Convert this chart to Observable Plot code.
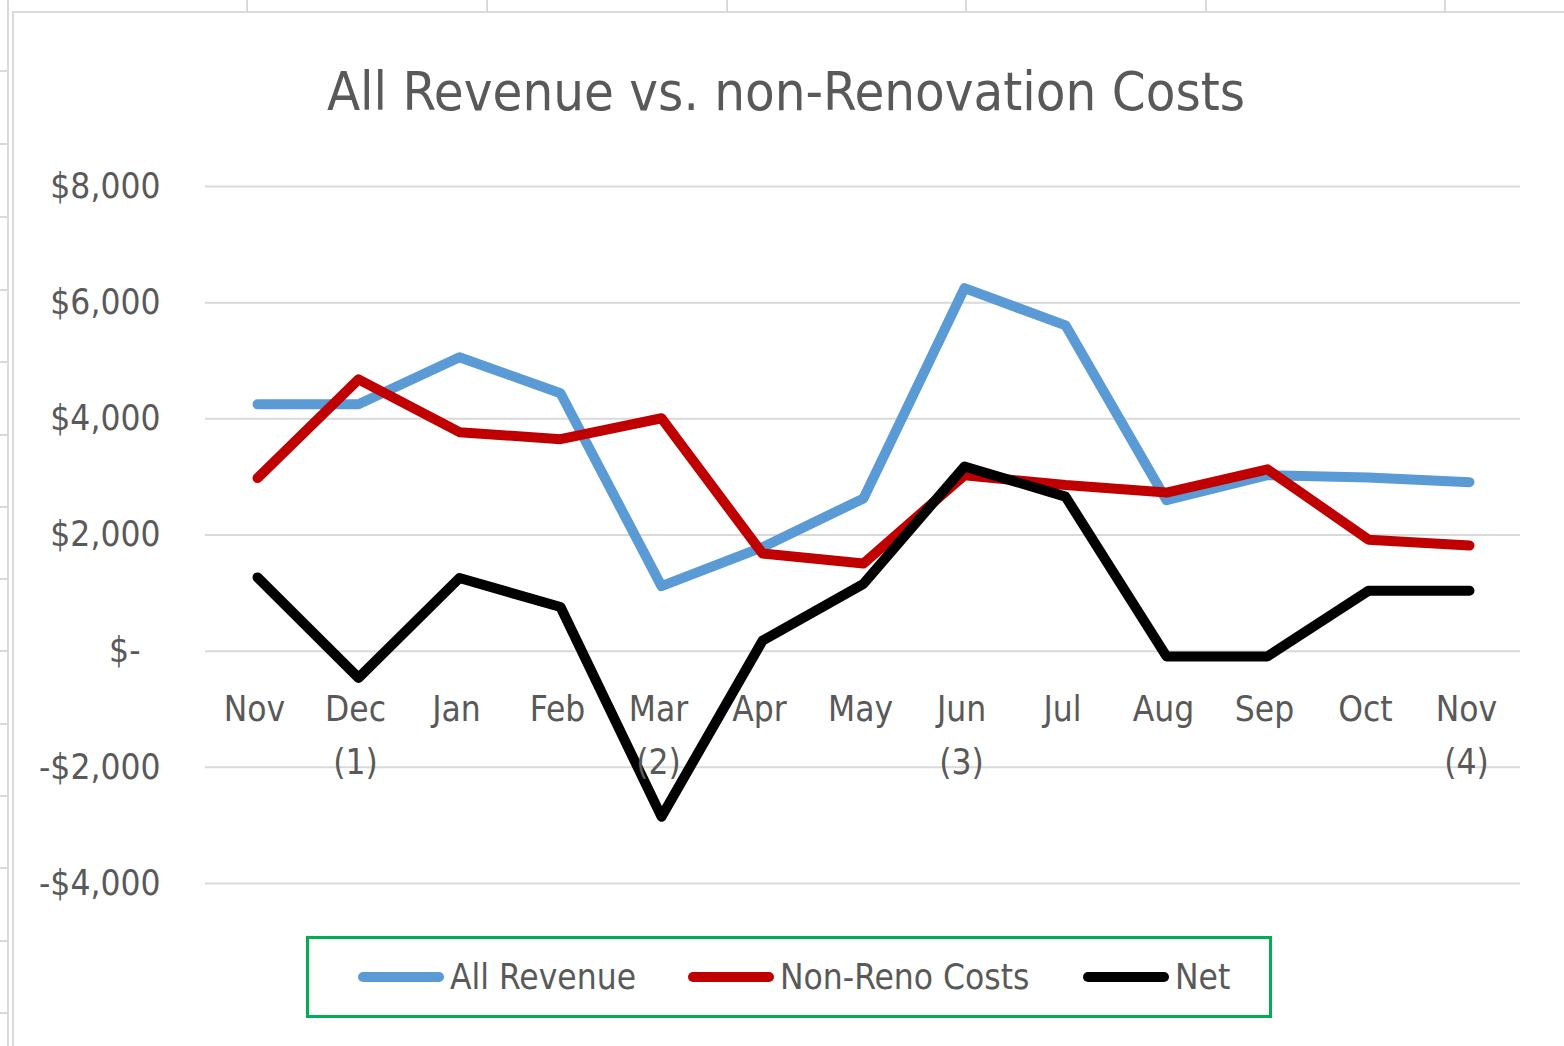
<!DOCTYPE html>
<html>
<head>
<meta charset="utf-8">
<script src="https://cdn.jsdelivr.net/npm/d3@7"></script>
<script src="https://cdn.jsdelivr.net/npm/@observablehq/plot@0.6"></script>
<style>
  html, body { margin: 0; padding: 0; background: #fff; }
  body { width: 1564px; height: 1046px; position: relative; overflow: hidden;
         font-family: "Liberation Sans Narrow", "DejaVu Sans Condensed", sans-serif; }
  .sheet { position: absolute; background: #D9D9D9; }
  #chart { position: absolute; left: 0; top: 0; }
  #title { position: absolute; left: 0; width: 1572px; top: 60px; text-align: center;
           font-size: 54px; color: #595959; white-space: nowrap; }
  #legend { position: absolute; left: 306px; top: 936px; width: 960px; height: 76px;
            border: 3px solid #00B050; }
  .item { position: absolute; top: 0; height: 76px; display: flex; align-items: center;
          font-size: 35px; color: #595959; white-space: nowrap; }
  .sw { display: inline-block; width: 86px; height: 10px; border-radius: 5px; margin-right: 6px; }
</style>
</head>
<body>
<div id="bg"></div>
<div id="chart"></div>
<div id="title">All Revenue vs. non-Renovation Costs</div>
<div id="legend"></div>
<script>
// ---- data ----
const months = ["Nov", "Dec\n(1)", "Jan", "Feb", "Mar\n(2)", "Apr", "May", "Jun\n(3)", "Jul", "Aug", "Sep", "Oct", "Nov\n(4)"];
const allRevenue = [4250, 4250, 5060, 4440, 1120, 1790, 2630, 6250, 5610, 2600, 3030, 2990, 2910];
const nonRenoCosts = [2980, 4680, 3770, 3650, 4010, 1680, 1510, 3030, 2860, 2730, 3130, 1920, 1820];
const net = [1270, -460, 1260, 760, -2850, 180, 1160, 3180, 2660, -90, -90, 1040, 1040];
const yTicks = [-4000, -2000, 0, 2000, 4000, 6000, 8000];
const seriesNames = ["All Revenue", "Non-Reno Costs", "Net"];
const seriesColors = ["#5B9BD5", "#C00000", "#000000"];

// spreadsheet background lines
const bg = document.getElementById("bg");
function addLine(l, t, w, h) {
  const d = document.createElement("div");
  d.className = "sheet";
  Object.assign(d.style, {left: l + "px", top: t + "px", width: w + "px", height: h + "px"});
  bg.appendChild(d);
}
addLine(7, 0, 2, 1046);       // sheet column line
addLine(12, 11, 2, 1035);     // chart border left
addLine(12, 11, 1552, 2);     // chart border top
[247, 487, 727, 966, 1206, 1445].forEach(x => addLine(x - 1, 0, 2, 11));
[71, 144, 217, 290, 362, 435, 507, 579, 651, 724, 796, 868, 941, 1013].forEach(y => addLine(0, y - 1, 8, 2));

const series = [allRevenue, nonRenoCosts, net];
const rows = [];
series.forEach((vals, s) => vals.forEach((v, i) => rows.push({i, v, s: seriesNames[s]})));
const labels = months.map((m, i) => ({i, m}));

const font = '"Liberation Sans Narrow", "DejaVu Sans Condensed", sans-serif';

const chart = Plot.plot({
  width: 1564,
  height: 1046,
  marginLeft: 205,
  marginRight: 44,
  marginTop: 186,
  marginBottom: 163,
  style: {fontFamily: font, background: "transparent", overflow: "visible"},
  x: {type: "point", domain: d3.range(months.length), padding: 0.5, axis: null},
  y: {domain: [-4000, 8000], axis: null},
  marks: [
    Plot.gridY(yTicks, {stroke: "#D9D9D9", strokeOpacity: 1, strokeWidth: 2}),
    Plot.axisY(yTicks, {
      label: null, tickSize: 0, tickPadding: 45, fontSize: 35, fill: "#595959",
      tickFormat: d => d === 0 ? "$-\u00a0\u00a0" : (d < 0 ? "-$" : "$") + d3.format(",")(Math.abs(d))
    }),
    ...seriesNames.map((name, s) =>
      Plot.line(rows.filter(r => r.s === name), {
        x: "i", y: "v", stroke: seriesColors[s], strokeWidth: 10,
        strokeLinejoin: "round", strokeLinecap: "round"
      })
    ),
    Plot.text(labels, {
      x: "i", y: () => 0, text: "m", lineAnchor: "top", dy: 33, dx: -3,
      fontSize: 35, lineHeight: 1.5, fill: "#595959"
    })
  ]
});
document.getElementById("chart").appendChild(chart);

// legend
const legend = document.getElementById("legend");
const lefts = [49, 379, 774];
seriesNames.forEach((name, s) => {
  const it = document.createElement("div");
  it.className = "item";
  it.style.left = lefts[s] + "px";
  const sw = document.createElement("span");
  sw.className = "sw";
  sw.style.background = seriesColors[s];
  it.appendChild(sw);
  it.appendChild(document.createTextNode(name));
  legend.appendChild(it);
});
</script>
</body>
</html>
